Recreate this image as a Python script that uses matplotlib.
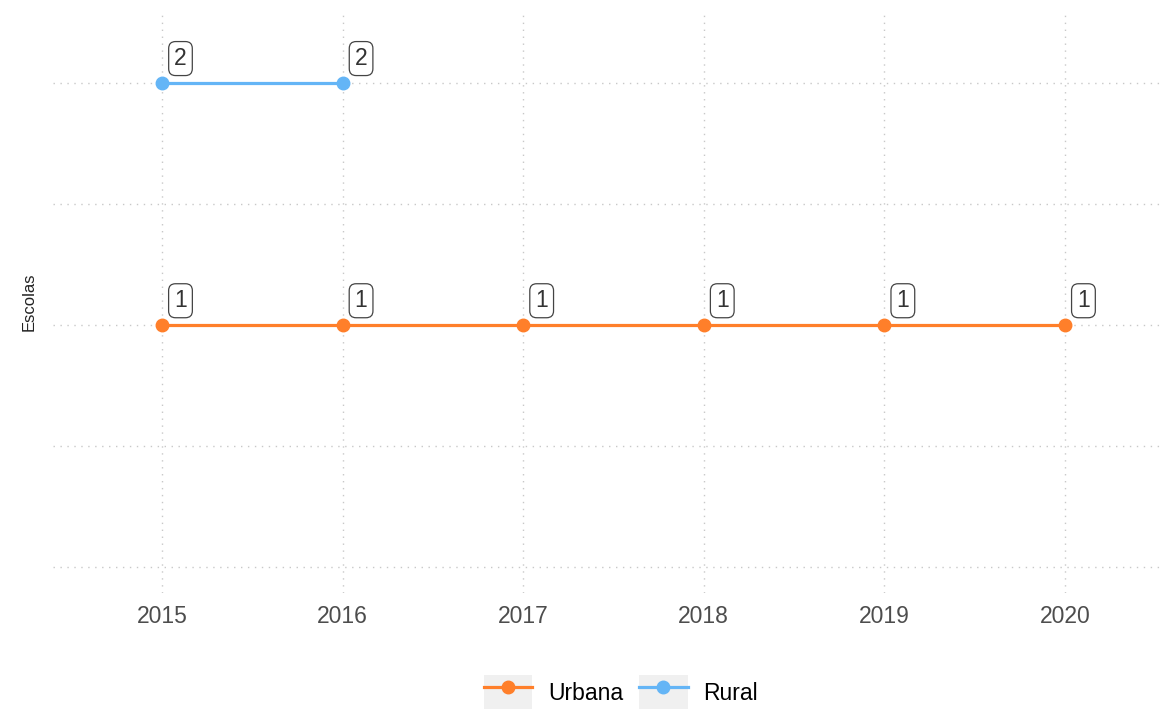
import matplotlib
matplotlib.use("Agg")
from matplotlib import pyplot as plt
from matplotlib.legend_handler import HandlerLine2D
from matplotlib.lines import Line2D
from matplotlib.patches import Rectangle

plt.rcParams['font.family'] = ['Liberation Sans', 'DejaVu Sans']

anos_urbana = [2015, 2016, 2017, 2018, 2019, 2020]
escolas_urbana = [1, 1, 1, 1, 1, 1]
anos_rural = [2015, 2016]
escolas_rural = [2, 2]

cor_urbana = "#FF7F2A"
cor_rural = "#64B5F6"


# legend key with the grey background square
class KeyComFundo(HandlerLine2D):
    def create_artists(self, legend, orig_handle, xdescent, ydescent,
                       width, height, fontsize, trans):
        fundo = Rectangle((-xdescent, -ydescent), width, height,
                          facecolor="#f0f0f0", edgecolor="none", transform=trans)
        arts = super().create_artists(legend, orig_handle, xdescent, ydescent,
                                      width, height, fontsize, trans)
        return [fundo] + arts


fig = plt.figure(figsize=(11.61, 7.10), dpi=100)
ax = fig.add_axes([0.0456, 0.165, 0.9535, 0.821])

ax.plot(anos_urbana, escolas_urbana, "-o", color=cor_urbana, lw=2.3, ms=9, label="Urbana")
ax.plot(anos_rural, escolas_rural, "-o", color=cor_rural, lw=2.3, ms=9, label="Rural")

for xs, ys in [(anos_urbana, escolas_urbana), (anos_rural, escolas_rural)]:
    for x, y in zip(xs, ys):
        ax.annotate(str(y), (x, y), xytext=(13.3, 17.3), textcoords="offset points",
                    ha="center", va="center", fontsize=16.5, color="#333333",
                    bbox=dict(boxstyle="round,pad=0.24,rounding_size=0.3",
                              fc="white", ec="#444444", lw=0.9))

ax.set_xlim(2014.396, 2020.526)
ax.set_ylim(-0.107, 2.30)
ax.set_xticks(anos_urbana)
ax.set_yticks([0, 0.5, 1, 1.5, 2])
ax.set_yticklabels([])
ax.tick_params(axis="both", length=0, labelsize=16.5, labelcolor="#4d4d4d", pad=9)
ax.grid(True, ls=(0, (1, 4)), color="#c8c8c8", lw=1)
for s in ax.spines.values():
    s.set_visible(False)
ax.set_ylabel("Escolas", fontsize=12, color="#222222")
ax.yaxis.set_label_coords(-0.0145, 0.5)

leg = fig.legend(handles=ax.get_lines(), loc="center", bbox_to_anchor=(0.535, 0.025),
                 ncol=2, frameon=False, fontsize=16.5, handlelength=2.1, handleheight=1.9,
                 handletextpad=0.7, columnspacing=0.7,
                 handler_map={Line2D: KeyComFundo()})

fig.savefig("out.png", dpi=100)
